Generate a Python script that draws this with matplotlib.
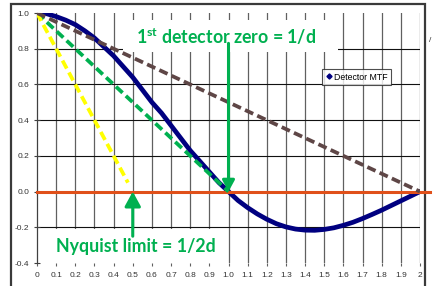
import numpy as np
import matplotlib
matplotlib.use("Agg")
import matplotlib.pyplot as plt
from matplotlib.patches import Rectangle
from matplotlib.lines import Line2D

# ---- data ----
mtf_x = [round(0.05 * i, 2) for i in range(41)]
mtf_y = [1.00, 0.996, 0.98, 0.96, 0.935, 0.90, 0.86, 0.81, 0.76, 0.70,
         0.64, 0.57, 0.50, 0.44, 0.37, 0.30, 0.23, 0.17, 0.11, 0.05,
         0.00, -0.05, -0.09, -0.125, -0.155, -0.18, -0.198, -0.21, -0.216, -0.217,
         -0.212, -0.203, -0.189, -0.172, -0.151, -0.128, -0.104, -0.078, -0.052, -0.026,
         0.00]
brown_x = [0.0, 2.0]
brown_y = [1.0, 0.0]
green_x = [0.0, 1.0]
green_y = [1.0, 0.0]
yellow_x = [0.0, 0.475]
yellow_y = [1.0, 0.05]
zero_x = [0.0, 2.05]
zero_y = [0.0, 0.0]
x_ticks = [round(0.1 * i, 1) for i in range(21)]
x_tick_labels = ["0"] + [f"{v:.1f}" for v in x_ticks[1:-1]] + ["2"]
y_ticks = [-0.4, -0.2, 0.0, 0.2, 0.4, 0.6, 0.8, 1.0]
y_tick_labels = [f"{v:.1f}" for v in y_ticks]
zero1_x, zero1_from, zero1_to = 1.0, 0.83, 0.0
nyq_x, nyq_from, nyq_to = 0.5, -0.25, 0.0
title1 = "1$^{\\mathrm{st}}$ detector zero = 1/d"
title2 = "Nyquist limit = 1/2d"
legend_label = "Detector MTF"

W, H = 433, 286
plt.rcParams['mathtext.fontset'] = 'custom'
plt.rcParams['mathtext.rm'] = 'Lato:bold'

fig = plt.figure(figsize=(W / 100, H / 100), dpi=100)
fig.patch.set_facecolor('white')
ax = fig.add_axes([37 / W, 1 - 263 / H, (420 - 37) / W, (263 - 13) / H])
ax.set_xlim(0, 2)
ax.set_ylim(-0.4, 1.0)
ax.set_facecolor('none')

# frame around chart
fig.add_artist(Rectangle((11 / W, -0.1), (425 - 11) / W, 1.1 - 4 / H,
                         transform=fig.transFigure, fill=False,
                         edgecolor='#3a3a3a', linewidth=1.6, zorder=0))
fig.text(430 / W, 1 - 40 / H, "/", fontsize=6, color='#333333',
         ha='center', va='center', family='Liberation Sans')

# grid
for xv in x_ticks[1:]:
    ax.axvline(xv, color='#606060', lw=0.9, zorder=1)
for yv in y_ticks[1:-1]:
    ax.axhline(yv, color='#111111', lw=0.8, zorder=1)

for s in ['top', 'right', 'bottom']:
    ax.spines[s].set_visible(False)
ax.spines['left'].set_color('#404040')
ax.spines['left'].set_linewidth(0.9)

ax.set_xticks(x_ticks)
ax.set_xticklabels(x_tick_labels)
ax.set_yticks(y_ticks)
ax.set_yticklabels(y_tick_labels)
ax.tick_params(axis='x', direction='out', length=2.5, width=0.8,
               color='#606060', labelsize=6, labelcolor='#333333', pad=4)
ax.tick_params(axis='y', direction='inout', length=5, width=0.8,
               color='#404040', labelsize=6, labelcolor='#333333', pad=3)
for lab in ax.get_xticklabels() + ax.get_yticklabels():
    lab.set_family('Liberation Sans')

# white text boxes covering grid
ax.add_patch(Rectangle((0.45, 0.78), 1.12, 0.18, facecolor='white',
                       edgecolor='none', zorder=2))
ax.add_patch(Rectangle((0.015, -0.40), 0.965, 0.19, facecolor='white',
                       edgecolor='none', zorder=2))

# lines
ax.plot(mtf_x, mtf_y, color='#000080', lw=3.4, zorder=4,
        solid_capstyle='round', solid_joinstyle='round')
ax.plot(zero_x, zero_y, color='#E0501A', lw=2.2, zorder=5, clip_on=False)
ax.plot(green_x, green_y, color='#00B050', lw=2.7, dashes=(2.4, 1.2), zorder=6)
ax.plot(yellow_x, yellow_y, color='#FFFF00', lw=2.7, dashes=(2.4, 1.2), zorder=6)
ax.plot(brown_x, brown_y, color='#5E4646', lw=2.7, dashes=(2.4, 1.2), zorder=6)

# arrows
ax.annotate("", xy=(zero1_x, zero1_to), xytext=(zero1_x, zero1_from),
            arrowprops=dict(arrowstyle='-|>,head_width=0.3,head_length=0.55',
                            color='#00B050', lw=2.2, shrinkA=0, shrinkB=0,
                            mutation_scale=12), zorder=8)
ax.annotate("", xy=(nyq_x, nyq_to), xytext=(nyq_x, nyq_from),
            arrowprops=dict(arrowstyle='-|>,head_width=0.3,head_length=0.55',
                            color='#00B050', lw=2.2, shrinkA=0, shrinkB=0,
                            mutation_scale=16), zorder=8)

# texts
ax.text(0.99, 0.87, title1, color='#00B050', fontsize=12.8, fontweight='bold',
        family='Lato', ha='center', va='center', zorder=7)
ax.text(0.515, -0.31, title2, color='#00B050', fontsize=12.8, fontweight='bold',
        family='Lato', ha='center', va='center', zorder=7)

# legend
handle = Line2D([], [], color='#000080', marker='D', linestyle='none',
                markersize=2.6)
leg = ax.legend([handle], [legend_label], loc='upper left',
                bbox_to_anchor=(0.744, 0.776), borderaxespad=0,
                frameon=True, fancybox=False, handlelength=0.7,
                handletextpad=0.3, borderpad=0.4,
                prop={'family': 'Liberation Sans', 'size': 6.3})
leg.get_frame().set_edgecolor('#222222')
leg.get_frame().set_linewidth(0.8)
leg.set_zorder(9)

fig.savefig("out.png", dpi=100, facecolor='white')
